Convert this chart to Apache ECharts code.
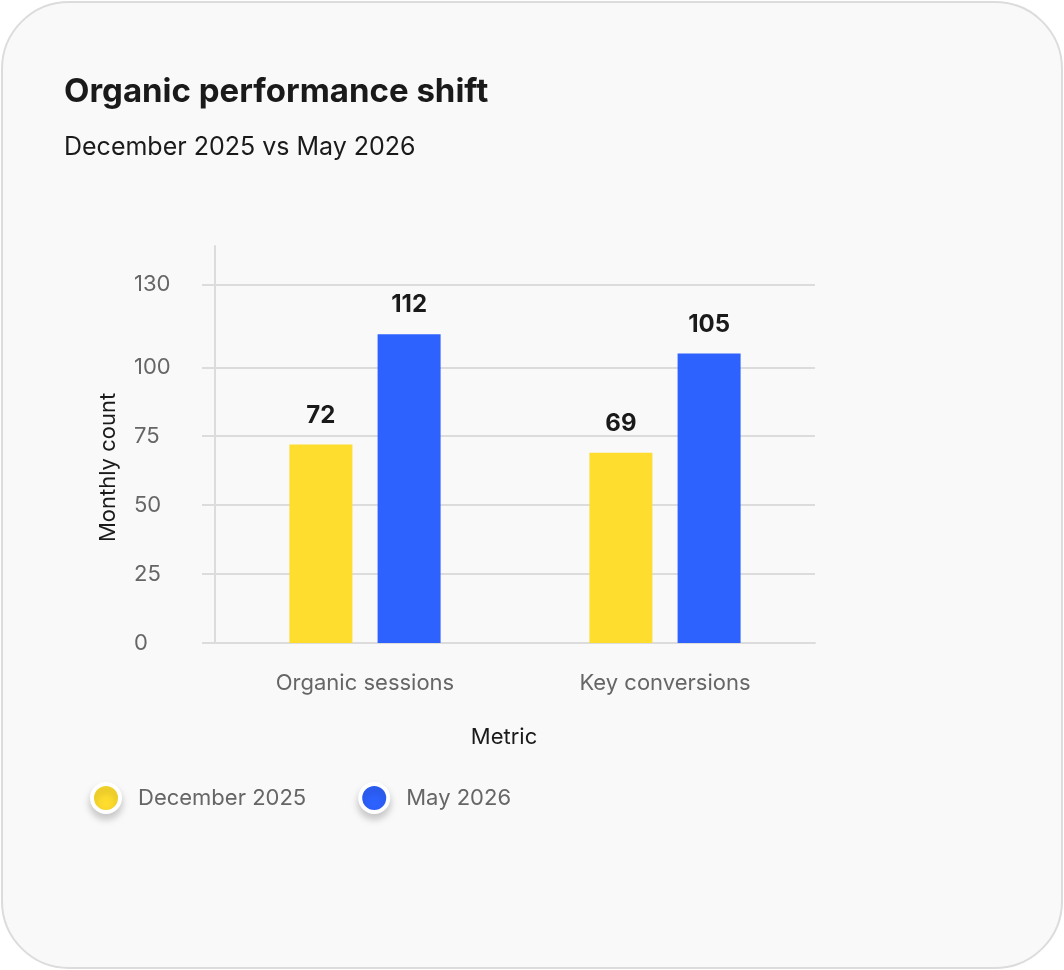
<!DOCTYPE html>
<html><head><meta charset="utf-8">
<script src="https://cdn.jsdelivr.net/npm/echarts@6/dist/echarts.min.js"></script>
<style>
html,body{margin:0;padding:0;background:#fff;}
#card{position:absolute;left:1px;top:1px;width:1062px;height:968px;border:2px solid #dcdcdc;border-radius:68px;background:#f9f9f9;box-sizing:border-box}
#chart{position:absolute;left:0;top:0;width:1064px;height:970px;}
</style></head><body>
<div id="card"></div><div id="chart"></div>
<script>
const titleText = 'Organic performance shift';
const subtitleText = 'December 2025 vs May 2026';
const categories = ['Organic sessions', 'Key conversions'];
const seriesNames = ['December 2025', 'May 2026'];
const dec2025 = [72, 69];
const may2026 = [112, 105];
const yTicks = [0, 25, 50, 75, 100, 130];
const yAxisName = 'Monthly count';
const xAxisName = 'Metric';
const colors = ['#FFDD2E', '#2E62FF'];

const FONT = 'Inter';
const chart = echarts.init(document.getElementById('chart'), null, {renderer: 'canvas'});
chart.setOption({
  backgroundColor: 'transparent',
  textStyle: {fontFamily: FONT},
  title: [
    {text: titleText, left: 64, top: 76, padding: 0, textStyle: {fontFamily: FONT, fontSize: 33, fontWeight: 'bold', color: '#1a1a1a'}},
    {text: subtitleText, left: 64, top: 135, padding: 0, textStyle: {fontFamily: FONT, fontSize: 25, fontWeight: 'normal', color: '#1a1a1a'}}
  ],
  legend: {
    data: seriesNames,
    left: 85, top: 777,
    icon: 'circle',
    itemWidth: 28, itemHeight: 28, itemGap: 52,
    itemStyle: {borderColor: '#ffffff', borderWidth: 4, shadowBlur: 8, shadowColor: 'rgba(0,0,0,0.2)', shadowOffsetY: 5},
    textStyle: {fontFamily: FONT, fontSize: 22, color: '#666666', padding: [0, 0, 0, 13]}
  },
  grid: {left: 215, top: 246, width: 600, bottom: 327},
  xAxis: {
    type: 'category',
    data: categories,
    name: xAxisName,
    nameLocation: 'middle',
    nameGap: 83,
    nameTextStyle: {fontFamily: FONT, fontSize: 22, color: '#1a1a1a', padding: [0, 22, 0, 0]},
    axisLine: {show: true, lineStyle: {color: '#dcdcdc', width: 2}},
    axisTick: {show: false},
    axisLabel: {fontFamily: FONT, fontSize: 22, color: '#666666', margin: 29}
  },
  yAxis: {
    type: 'value',
    min: 0, max: 144,
    name: yAxisName,
    nameLocation: 'middle',
    nameGap: 96,
    nameTextStyle: {fontFamily: FONT, fontSize: 22, color: '#1a1a1a', padding: [0, 46, 0, 0]},
    axisLine: {show: true, lineStyle: {color: '#dcdcdc', width: 2}},
    axisTick: {show: true, customValues: yTicks, length: 13, lineStyle: {color: '#dcdcdc', width: 2}},
    axisLabel: {customValues: yTicks, fontFamily: FONT, fontSize: 22, color: '#666666', align: 'left', margin: 81},
    splitLine: {show: true, lineStyle: {color: '#dcdcdc', width: 2}}
  },
  series: [
    {name: seriesNames[0], type: 'bar', data: dec2025, barWidth: 63, barGap: '40%',
     itemStyle: {color: colors[0]},
     label: {show: true, position: 'top', distance: 17, fontFamily: FONT, fontSize: 24, fontWeight: 'bold', color: '#1a1a1a'}},
    {name: seriesNames[1], type: 'bar', data: may2026, barWidth: 63, barGap: '40%',
     itemStyle: {color: colors[1]},
     label: {show: true, position: 'top', distance: 17, fontFamily: FONT, fontSize: 24, fontWeight: 'bold', color: '#1a1a1a'}}
  ]
});
</script>
</body></html>
